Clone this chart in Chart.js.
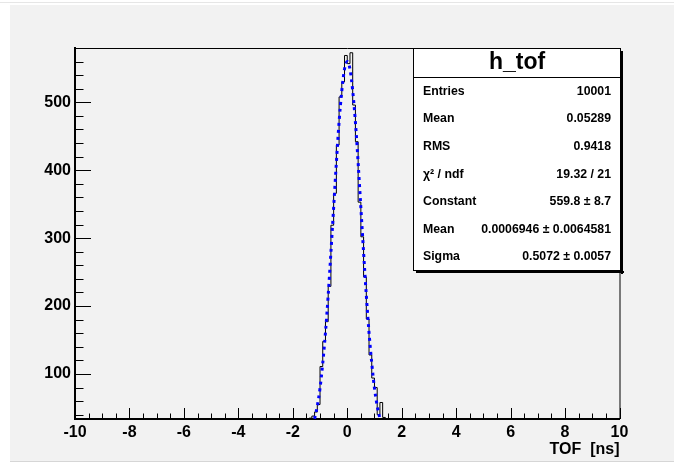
<!DOCTYPE html>
<html>
<head>
<meta charset="utf-8">
<script src="https://cdn.jsdelivr.net/npm/chart.js@4.4.1/dist/chart.umd.min.js"></script>
<style>
    html, body { margin: 0; padding: 0; background: #fff; overflow: hidden; }
    #topline { position: absolute; left: 0; top: 2px; width: 674px; height: 1px; background: #e6e6e6; }
    #pad { position: absolute; left: 10px; top: 5px; width: 664px; height: 456px; background: #f2f2f2; }
    #bottomline { position: absolute; left: 10px; top: 461px; width: 664px; height: 1px; background: #d6d6d6; }
</style>
</head>
<body>
<div id="topline"></div>
<div id="pad"><canvas id="chartTof" width="664" height="456"></canvas></div>
<div id="bottomline"></div>
<script>
// histogram h_tof: low edge of every non-empty bin, bin width 0.1 ns
var binWidth = 0.1;
var binLow = [-1.4, -1.3, -1.2, -1.1, -1.0, -0.9, -0.8, -0.7, -0.6, -0.5, -0.4, -0.3, -0.2, -0.1,
              0.0, 0.1, 0.2, 0.3, 0.4, 0.5, 0.6, 0.7, 0.8, 0.9, 1.0, 1.1, 1.2, 1.3];
var binCounts = [35, 38, 44, 55, 111, 148, 177, 229, 319, 366, 437, 508, 530, 569,
                 557, 573, 496, 442, 353, 302, 243, 181, 128, 94, 80, 40, 58, 36];

// gaussian fit
var fitX = [-1.2, -1.1, -1.0, -0.9, -0.8, -0.7, -0.6, -0.5, -0.4, -0.3, -0.2, -0.1, 0.0,
            0.1, 0.2, 0.3, 0.4, 0.5, 0.6, 0.7, 0.8, 0.9, 1.0, 1.1, 1.2];
var fitY = [34, 53, 79, 116, 161, 216, 279, 345, 411, 471, 517, 549, 560,
            549, 517, 471, 411, 345, 279, 216, 161, 116, 79, 53, 34];

var xTickLabels = [-10, -8, -6, -4, -2, 0, 2, 4, 6, 8, 10];
var yTickLabels = [100, 200, 300, 400, 500];

var statNames = ['Entries', 'Mean', 'RMS', '\u03c7\u00b2 / ndf', 'Constant', 'Mean', 'Sigma'];
var statValues = ['10001', '0.05289', '0.9418', '19.32 / 21', '559.8 \u00b1 8.7',
                  '0.0006946 \u00b1 0.0064581', '0.5072 \u00b1 0.0057'];

var fontFamily = '"Liberation Sans", Arial, Helvetica, sans-serif';

// contour of the histogram (step line)
var histPoints = [{x: -10, y: 0}];
for (var i = 0; i < binLow.length; i++) {
    histPoints.push({x: binLow[i], y: binCounts[i]});
}
histPoints.push({x: binLow[binLow.length - 1] + binWidth, y: 0});
histPoints.push({x: 10, y: 0});

var fitPoints = fitX.map(function (x, i) { return {x: x, y: fitY[i]}; });

// ROOT-like ticks inside the frame, frame and stat box
var rootDecor = {
    id: 'rootDecor',
    afterDraw: function (chart) {
        var ctx = chart.ctx;
        var a = chart.chartArea;
        var xs = chart.scales.x, ys = chart.scales.y;
        ctx.save();
        ctx.strokeStyle = '#000';
        ctx.lineWidth = 1;

        // frame top and right
        ctx.beginPath();
        ctx.moveTo(a.left, a.top + 0.5);
        ctx.lineTo(a.right + 0.5, a.top + 0.5);
        ctx.lineTo(a.right + 0.5, a.bottom);
        ctx.stroke();

        // x ticks, every 0.5
        ctx.beginPath();
        for (var k = -20; k <= 20; k++) {
            var px = Math.round(xs.getPixelForValue(k * 0.5)) + 0.5;
            var len = (k % 4 === 0) ? 11 : 5.5;
            ctx.moveTo(px, a.bottom);
            ctx.lineTo(px, a.bottom - len);
        }
        // y ticks, every 20
        for (var j = 1; j * 20 <= ys.max; j++) {
            var v = j * 20;
            if (v < ys.min) continue;
            var py = Math.round(ys.getPixelForValue(v)) + 0.5;
            var ylen = (v % 100 === 0) ? 16 : 8.5;
            ctx.moveTo(a.left, py);
            ctx.lineTo(a.left + ylen, py);
        }
        ctx.stroke();

        // stat box
        var bw = 208, bh = 223;
        var bx = Math.round(a.right) - bw + 1, by = Math.round(a.top);
        ctx.fillStyle = '#000';
        ctx.fillRect(bx + 3, by + bh, bw, 2);
        ctx.fillRect(bx + bw, by + 3, 2, bh);
        ctx.fillStyle = '#fff';
        ctx.fillRect(bx, by, bw, bh);
        ctx.strokeRect(bx + 0.5, by + 0.5, bw - 1, bh - 1);
        ctx.beginPath();
        ctx.moveTo(bx, by + 29.5);
        ctx.lineTo(bx + bw, by + 29.5);
        ctx.stroke();

        ctx.fillStyle = '#000';
        ctx.textBaseline = 'middle';
        ctx.textAlign = 'center';
        ctx.font = 'bold 23px ' + fontFamily;
        ctx.fillText('h_tof', bx + bw / 2, by + 15);

        ctx.font = 'bold 12.3px ' + fontFamily;
        for (var r = 0; r < statNames.length; r++) {
            var ty = by + 43.4 + r * 27.6;
            ctx.textAlign = 'left';
            ctx.fillText(statNames[r], bx + 10, ty);
            ctx.textAlign = 'right';
            ctx.fillText(statValues[r], bx + bw - 10, ty);
        }
        ctx.restore();
    }
};

var ourChart = document.getElementById('chartTof');

var tofChart = new Chart(ourChart, {
    type: 'line',
    data: {
        datasets: [
            {
                label: 'fit',
                data: fitPoints,
                borderColor: '#0000ff',
                borderWidth: 3,
                borderDash: [3, 4],
                pointRadius: 0,
                fill: false,
                cubicInterpolationMode: 'monotone'
            },
            {
                label: 'h_tof',
                data: histPoints,
                borderColor: '#000000',
                borderWidth: 1,
                pointRadius: 0,
                fill: false,
                stepped: true
            }
        ]
    },
    options: {
        responsive: false,
        animation: false,
        events: [],
        layout: {
            padding: {top: 43, right: 54.5, left: 0, bottom: 0}
        },
        plugins: {
            legend: {display: false},
            tooltip: {enabled: false}
        },
        scales: {
            x: {
                type: 'linear',
                min: -10,
                max: 10,
                afterBuildTicks: function (s) {
                    s.ticks = xTickLabels.map(function (v) { return {value: v}; });
                },
                afterFit: function (s) { s.height = 42; },
                grid: {display: false, drawTicks: false},
                border: {display: true, color: '#000', width: 2},
                ticks: {
                    color: '#000',
                    padding: 4,
                    maxRotation: 0,
                    autoSkip: false,
                    font: {family: fontFamily, size: 16, weight: 'bold'}
                },
                title: {
                    display: true,
                    text: 'TOF  [ns]',
                    align: 'end',
                    color: '#000',
                    padding: {top: 0, bottom: 2},
                    font: {family: fontFamily, size: 16, weight: 'bold'}
                }
            },
            y: {
                type: 'linear',
                min: 33.7,
                max: 580,
                afterBuildTicks: function (s) {
                    s.ticks = yTickLabels.map(function (v) { return {value: v}; });
                },
                afterFit: function (s) { s.width = 65; },
                grid: {display: false, drawTicks: false},
                border: {display: true, color: '#000', width: 2},
                ticks: {
                    color: '#000',
                    padding: 4,
                    font: {family: fontFamily, size: 16, weight: 'bold'}
                }
            }
        }
    },
    plugins: [rootDecor]
});
</script>
</body>
</html>
